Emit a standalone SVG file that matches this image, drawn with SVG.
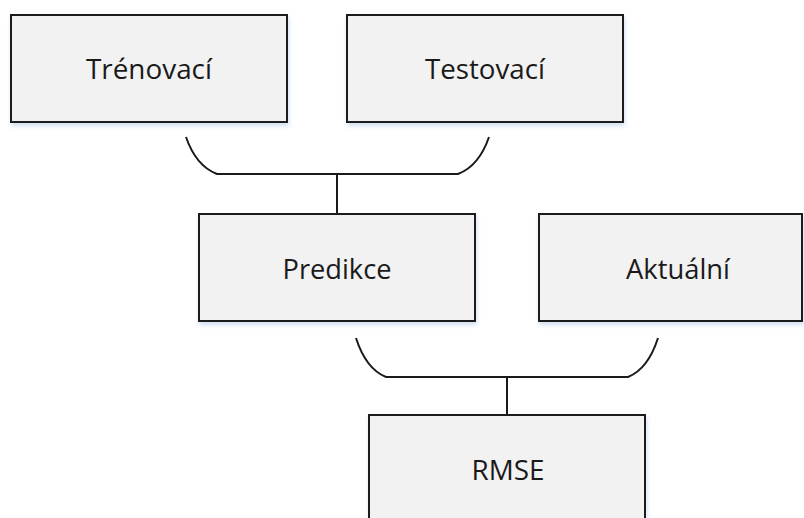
<svg xmlns="http://www.w3.org/2000/svg" width="804" height="518" viewBox="0 0 804 518">
<defs>
<filter id="sh" x="-10%" y="-10%" width="120%" height="130%">
<feDropShadow dx="1" dy="3" stdDeviation="2" flood-color="#9bbbe0" flood-opacity="0.45"/>
</filter>
</defs>
<style>
.box{fill:#f2f2f2;stroke:#1a1a1a;stroke-width:2;filter:url(#sh)}
.lbl{font-family:"Open Sans","Noto Sans",sans-serif;font-size:28px;fill:#1a1a1a;text-anchor:middle}
.con{fill:none;stroke:#1a1a1a;stroke-width:2}
</style>
<g id="connectors">
<path class="con" d="M186,137 Q196,166 217,174 L458,174 Q479,166 489,137"/>
<line class="con" x1="337" y1="174" x2="337" y2="214"/>
<path class="con" d="M356,338 Q366,369 386,377 L628,377 Q648,369 658,338"/>
<line class="con" x1="507" y1="377" x2="507" y2="415"/>
</g>
<g id="trenovaci">
<rect class="box" x="11" y="15" width="276" height="107"/>
<text class="lbl" x="149" y="79" textLength="126" lengthAdjust="spacingAndGlyphs">Trénovací</text>
</g>
<g id="testovaci">
<rect class="box" x="347" y="15" width="276" height="107"/>
<text class="lbl" x="485" y="79" textLength="120" lengthAdjust="spacingAndGlyphs">Testovací</text>
</g>
<g id="predikce">
<rect class="box" x="199" y="214" width="276" height="107"/>
<text class="lbl" x="337" y="279" textLength="109" lengthAdjust="spacingAndGlyphs">Predikce</text>
</g>
<g id="aktualni">
<rect class="box" x="539" y="214" width="263" height="107"/>
<text class="lbl" x="678" y="279" textLength="104" lengthAdjust="spacingAndGlyphs">Aktuální</text>
</g>
<g id="rmse">
<rect class="box" x="369" y="415" width="276" height="120"/>
<text class="lbl" x="508" y="480" textLength="73" lengthAdjust="spacingAndGlyphs">RMSE</text>
</g>
</svg>
